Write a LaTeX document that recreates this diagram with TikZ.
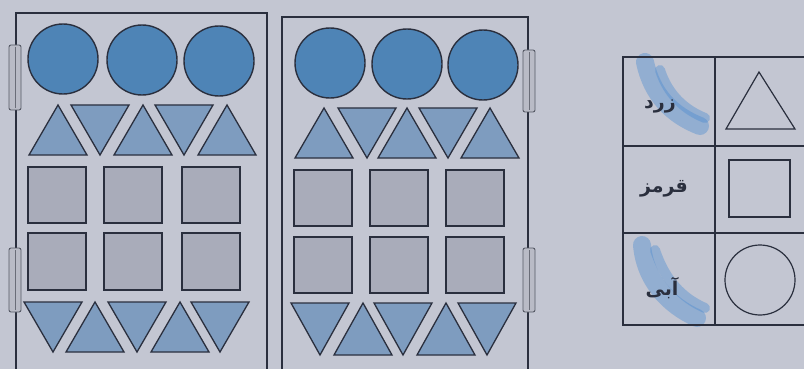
\documentclass[tikz,border=0pt]{standalone}
\usepackage{fontspec}
\newfontfamily\arabicfont[Script=Arabic]{DejaVu Sans}
\TeXXeTstate=1
\definecolor{bg}{HTML}{C3C6D2}
\definecolor{ink}{HTML}{2A2F3E}
\definecolor{circ}{HTML}{4E84B6}
\definecolor{trif}{HTML}{7E9CBF}
\definecolor{sqf}{HTML}{A9ACBA}
\definecolor{hl}{HTML}{4A8AD0}
\tikzset{
  frame/.style={draw=ink, line width=1.3pt},
  circshape/.style={draw=ink, fill=circ, line width=1.4pt},
  trishape/.style={draw=ink, fill=trif, line width=1.3pt, line join=miter},
  sqshape/.style={draw=ink, fill=sqf, line width=1.3pt},
  hinge/.style={draw=ink!80, fill=bg!85!gray, line width=0.9pt, rounded corners=2pt},
  tab/.style={draw=ink, line width=1.2pt},
  empty/.style={draw=ink, line width=1.2pt},
  label/.style={font=\arabicfont\fontsize{19}{23}\selectfont\bfseries, text=ink},
  marker/.style={draw=hl, opacity=0.4, line width=18pt, line cap=round}
}
% up triangle: apex x, top y, bottom y
\newcommand{\uptri}[3]{\draw[trishape] (#1-29,#3) -- (#1,#2) -- (#1+29,#3) -- cycle;}
\newcommand{\dntri}[3]{\draw[trishape] (#1-29,#2) -- (#1+29,#2) -- (#1,#3) -- cycle;}
\begin{document}
\begin{tikzpicture}[x=1pt,y=-1pt]
\useasboundingbox (0,0) rectangle (804,369);
\fill[bg] (0,0) rectangle (804,369);

% ---------- left cabinet ----------
\draw[frame] (16,375) -- (16,13) -- (267,13) -- (267,375);
\draw[hinge] (9,45) rectangle (21,110);
\draw[hinge] (9,248) rectangle (21,312);
\draw[ink!70, line width=0.8pt] (15,47) -- (15,108) (15,250) -- (15,310);
\foreach \cx/\cy in {63/59,142/60,219/61} \draw[circshape] (\cx,\cy) circle (35);
\foreach \a in {58,143,227} {\uptri{\a}{105}{155}}
\foreach \a in {100,184} {\dntri{\a}{105}{155}}
\foreach \sx in {28,104,182} {
  \draw[sqshape] (\sx,167) rectangle ++(58,56);
  \draw[sqshape] (\sx,233) rectangle ++(58,57);
}
\foreach \a in {53,137,220} {\dntri{\a}{302}{352}}
\foreach \a in {95,180} {\uptri{\a}{302}{352}}

% ---------- right cabinet ----------
\draw[frame] (282,375) -- (282,17) -- (528,17) -- (528,375);
\draw[hinge] (523,50) rectangle (535,112);
\draw[hinge] (523,248) rectangle (535,312);
\draw[ink!70, line width=0.8pt] (529,52) -- (529,110) (529,250) -- (529,310);
\foreach \cx/\cy in {330/63,407/64,483/65} \draw[circshape] (\cx,\cy) circle (35);
\foreach \a in {324,407,490} {\uptri{\a}{108}{158}}
\foreach \a in {367,448} {\dntri{\a}{108}{158}}
\foreach \sx in {294,370,446} {
  \draw[sqshape] (\sx,170) rectangle ++(58,56);
  \draw[sqshape] (\sx,237) rectangle ++(58,56);
}
\foreach \a in {320,403,487} {\dntri{\a}{303}{355}}
\foreach \a in {363,446} {\uptri{\a}{303}{355}}

% ---------- legend table ----------
\draw[marker] (645,62) .. controls (652,95) and (672,115) .. (700,126);
\draw[marker, line width=10pt] (660,70) .. controls (668,95) and (685,110) .. (705,118);
\draw[marker] (642,245) .. controls (645,280) and (668,305) .. (697,318);
\draw[marker, line width=10pt] (655,250) .. controls (665,280) and (682,298) .. (705,308);
\draw[tab] (810,57) -- (623,57) -- (623,325) -- (810,325);
\draw[tab] (715,57) -- (715,325);
\draw[tab] (623,146) -- (810,146);
\draw[tab] (623,233) -- (810,233);
\node[label] (yellow) at (660,106) {\beginR زرد\endR};
\node[label] (red) at (664,189) {\beginR قرمز\endR};
\node[label] (blue) at (662,288) {\beginR آبی\endR};
\draw[empty] (726,129) -- (759,72) -- (795,129) -- cycle;
\draw[empty] (729,160) rectangle (790,217);
\draw[empty] (760,280) circle (35);
\end{tikzpicture}
\end{document}
